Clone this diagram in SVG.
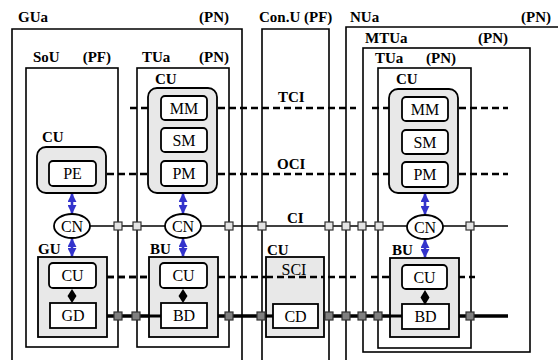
<svg xmlns="http://www.w3.org/2000/svg" width="558" height="360" viewBox="0 0 558 360" font-family="'Liberation Serif', 'Times New Roman', 'DejaVu Serif', serif">
<defs>
<style>
.frame{fill:none;stroke:#000;stroke-width:1.6}
.cu{fill:#e8e8e8;stroke:#000;stroke-width:1.8}
.box{fill:#fff;stroke:#000;stroke-width:1.8}
.lbl{font-family:'Liberation Serif','Times New Roman','DejaVu Serif',serif;font-size:15px;font-weight:bold;fill:#000}
.txt{font-family:'Liberation Serif','Times New Roman','DejaVu Serif',serif;font-size:16px;fill:#000;text-anchor:middle}
.dash{stroke:#000;stroke-width:2.6;stroke-dasharray:7 4;fill:none}
.ci{stroke:#000;stroke-width:1.6;fill:none}
.bus{stroke:#000;stroke-width:3.2;fill:none}
.sq1{fill:#e4e4e4;stroke:#333;stroke-width:1.2}
.sq2{fill:#808080;stroke:#333;stroke-width:1.2}
.blue{stroke:#3333cc;stroke-width:2.6;fill:none;marker-start:url(#bh);marker-end:url(#bh)}
.dia{fill:#000}
</style>
<marker id="bh" viewBox="0 0 10 10" refX="9" refY="5" markerWidth="9" markerHeight="9" markerUnits="userSpaceOnUse" orient="auto-start-reverse">
<path d="M0,0 L10,5 L0,10 z" fill="#3333cc"/>
</marker>
</defs>

<g id="frames">
<path id="GUa" class="frame" d="M12,360 V29 H242 V360"/>
<text class="lbl" x="18" y="22">GUa</text>
<text class="lbl" x="229" y="22" text-anchor="end">(PN)</text>
<path id="ConU" class="frame" d="M262,360 V29 H329 V360"/>
<text class="lbl" x="259" y="22">Con.U (PF)</text>
<path id="NUa" class="frame" d="M346,360 V27 H560"/>
<text class="lbl" x="350" y="22">NUa</text>
<text class="lbl" x="551" y="22" text-anchor="end">(PN)</text>
<rect id="MTUa" class="frame" x="363" y="48" width="167" height="304"/>
<text class="lbl" x="365" y="43">MTUa</text>
<text class="lbl" x="508" y="43" text-anchor="end">(PN)</text>
<rect id="TUa3" class="frame" x="378" y="68" width="93" height="280"/>
<text class="lbl" x="375" y="63">TUa</text>
<text class="lbl" x="456" y="63" text-anchor="end">(PN)</text>
<rect id="SoU" class="frame" x="26" y="68" width="92" height="279"/>
<text class="lbl" x="33" y="62">SoU</text>
<text class="lbl" x="111" y="62" text-anchor="end">(PF)</text>
<rect id="TUa1" class="frame" x="137" y="68" width="92" height="279"/>
<text class="lbl" x="142" y="62">TUa</text>
<text class="lbl" x="229" y="62" text-anchor="end">(PN)</text>
</g>

<g id="connectors">
<path class="dash" d="M130,108 H161 M207,108 H356 M372,108 H402 M448,108 H508"/>
<path class="dash" d="M96,174 H161 M207,174 H356 M372,174 H402 M448,174 H508"/>
<path class="dash" d="M96,277 H160 M207,277 H356 M371,277 H402 M447,277 H475"/>
<path class="ci" d="M90,226 H508"/>
<path class="bus" d="M96,316 H508"/>
<path class="blue" d="M72,194 V213"/>
<path class="blue" d="M72,239 V256"/>
<path class="blue" d="M183,194 V213"/>
<path class="blue" d="M183,239 V256"/>
<path class="blue" d="M425,194 V214"/>
<path class="blue" d="M425,240 V257"/>
</g>

<g id="CU_SoU">
<text class="lbl" x="42" y="142">CU</text>
<rect class="cu" x="37" y="147" width="69" height="46" rx="9"/>
</g>
<g id="PE"><rect class="box" x="49" y="161" width="47" height="25" rx="4"/><text class="txt" x="72.5" y="179">PE</text></g>

<g id="CU_TUa1">
<text class="lbl" x="155" y="84">CU</text>
<rect class="cu" x="148" y="88" width="69" height="105" rx="9"/>
</g>
<g id="MM1"><rect class="box" x="161" y="96" width="46" height="24" rx="4"/><text class="txt" x="184" y="114">MM</text></g>
<g id="SM1"><rect class="box" x="161" y="128" width="46" height="24" rx="4"/><text class="txt" x="184" y="146">SM</text></g>
<g id="PM1"><rect class="box" x="161" y="161" width="46" height="25" rx="4"/><text class="txt" x="184" y="179">PM</text></g>

<g id="CU_TUa3">
<text class="lbl" x="396" y="84">CU</text>
<rect class="cu" x="389" y="89" width="69" height="104" rx="9"/>
</g>
<g id="MM3"><rect class="box" x="402" y="97" width="46" height="24" rx="4"/><text class="txt" x="425" y="115">MM</text></g>
<g id="SM3"><rect class="box" x="402" y="130" width="46" height="24" rx="4"/><text class="txt" x="425" y="148">SM</text></g>
<g id="PM3"><rect class="box" x="402" y="162" width="46" height="25" rx="4"/><text class="txt" x="425" y="180">PM</text></g>

<g id="CN1"><ellipse cx="72" cy="226" rx="18" ry="12" class="box"/><text class="txt" x="72" y="232">CN</text></g>
<g id="CN2"><ellipse cx="183" cy="226" rx="18" ry="12" class="box"/><text class="txt" x="183" y="232">CN</text></g>
<g id="CN3"><ellipse cx="425" cy="227" rx="18" ry="12" class="box"/><text class="txt" x="425" y="233">CN</text></g>

<g id="GU">
<text class="lbl" x="38" y="254">GU</text>
<rect class="cu" x="38" y="257" width="69" height="80"/>
<rect class="box" x="49" y="263" width="47" height="25" rx="4"/><text class="txt" x="72.5" y="281">CU</text>
<rect class="box" x="50" y="303" width="46" height="25"/><text class="txt" x="73" y="321">GD</text>
<polygon class="dia" points="72,289 76.5,296 72,303 67.5,296"/>
</g>

<g id="BU1">
<text class="lbl" x="150" y="254">BU</text>
<rect class="cu" x="149" y="257" width="69" height="80"/>
<rect class="box" x="160" y="263" width="47" height="25" rx="4"/><text class="txt" x="183.5" y="281">CU</text>
<rect class="box" x="161" y="303" width="46" height="25"/><text class="txt" x="184" y="321">BD</text>
<polygon class="dia" points="183,289 187.5,296 183,303 178.5,296"/>
</g>

<g id="CU_Con">
<text class="lbl" x="267" y="255">CU</text>
<rect class="cu" x="266" y="257" width="58" height="80"/>
<path class="dash" d="M266,277 H324"/>
<text class="txt" x="294" y="275">SCI</text>
<path class="bus" d="M266,316 H273"/>
<rect class="box" x="273" y="304" width="45" height="24"/><text class="txt" x="295.5" y="322">CD</text>
</g>

<g id="BU3">
<text class="lbl" x="392" y="255">BU</text>
<rect class="cu" x="390" y="258" width="69" height="79"/>
<rect class="box" x="402" y="265" width="45" height="24" rx="4"/><text class="txt" x="424.5" y="283">CU</text>
<rect class="box" x="402" y="304" width="47" height="25"/><text class="txt" x="425.5" y="322">BD</text>
<polygon class="dia" points="425,290 429.5,297.5 425,305 420.5,297.5"/>
</g>

<g id="bus_ext">
<path class="bus" d="M107,316 H161 M218,316 H266 M324,316 H402 M459,316 H508"/>
<path class="dash" d="M107,277 H149"/>
</g>

<g id="ports">
<rect class="sq1" x="114" y="222" width="8" height="8"/>
<rect class="sq1" x="133" y="222" width="8" height="8"/>
<rect class="sq1" x="225" y="222" width="8" height="8"/>
<rect class="sq1" x="258" y="222" width="8" height="8"/>
<rect class="sq1" x="325" y="222" width="8" height="8"/>
<rect class="sq1" x="342" y="222" width="8" height="8"/>
<rect class="sq1" x="358" y="222" width="8" height="8"/>
<rect class="sq1" x="375" y="222" width="8" height="8"/>
<rect class="sq1" x="466" y="222" width="8" height="8"/>
<rect class="sq2" x="114" y="312" width="8" height="8"/>
<rect class="sq2" x="132" y="312" width="8" height="8"/>
<rect class="sq2" x="225" y="312" width="8" height="8"/>
<rect class="sq2" x="257" y="312" width="8" height="8"/>
<rect class="sq2" x="325" y="312" width="8" height="8"/>
<rect class="sq2" x="342" y="312" width="8" height="8"/>
<rect class="sq2" x="358" y="312" width="8" height="8"/>
<rect class="sq2" x="374" y="312" width="8" height="8"/>
<rect class="sq2" x="466" y="312" width="8" height="8"/>
</g>

<g id="labels">
<text class="lbl" x="278" y="102">TCI</text>
<text class="lbl" x="277" y="169">OCI</text>
<text class="lbl" x="287" y="223">CI</text>
</g>
</svg>
